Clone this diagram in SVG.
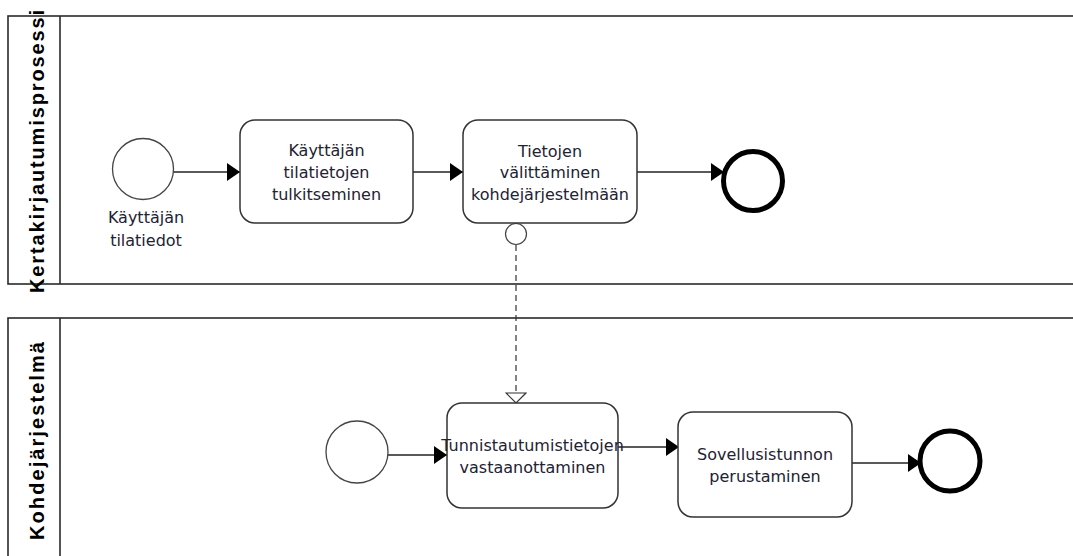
<svg xmlns="http://www.w3.org/2000/svg" width="1073" height="556" viewBox="0 0 1073 556">
  <style>
    .pool { fill: #ffffff; stroke: #2a2a2a; stroke-width: 1.6; }
    .divider { stroke: #2a2a2a; stroke-width: 1.6; }
    .pool-title { font-family: "Liberation Sans", Arial, sans-serif; font-weight: bold; font-size: 20px; fill: #000000; }
    .task { fill: #ffffff; stroke: #333333; stroke-width: 1.5; }
    .start { fill: #ffffff; stroke: #444444; stroke-width: 1.3; }
    .end { fill: #ffffff; stroke: #000000; stroke-width: 5; }
    .label { font-family: "DejaVu Sans", Verdana, sans-serif; font-size: 16px; fill: #222233; text-anchor: middle; }
    .flow { fill: none; stroke: #222222; stroke-width: 1.5; marker-end: url(#arrow); }
    .message { fill: none; stroke: #333333; stroke-width: 1.2; stroke-dasharray: 6 4; marker-end: url(#openArrow); }
  </style>
  <defs>
    <marker id="arrow" markerUnits="userSpaceOnUse" markerWidth="13" markerHeight="18" refX="13" refY="9" orient="auto">
      <path d="M0,0 L13,9 L0,18 z" fill="#000000"/>
    </marker>
    <marker id="openArrow" markerUnits="userSpaceOnUse" markerWidth="12" markerHeight="22" refX="11" refY="11" orient="auto">
      <path d="M1,1 L11,11 L1,21 z" fill="#ffffff" stroke="#333333" stroke-width="1.2"/>
    </marker>
  </defs>

  <!-- Pools -->
  <g id="pool-kertakirjautuminen">
    <rect class="pool" x="8" y="16" width="1100" height="268"/>
    <line class="divider" x1="60" y1="16" x2="60" y2="284"/>
    <text class="pool-title" transform="translate(44,151.5) rotate(-90)" text-anchor="middle" textLength="283" lengthAdjust="spacing">Kertakirjautumisprosessi</text>
  </g>
  <g id="pool-kohdejarjestelma">
    <rect class="pool" x="8" y="318" width="1100" height="300"/>
    <line class="divider" x1="60" y1="318" x2="60" y2="556"/>
    <text class="pool-title" transform="translate(44,441) rotate(-90)" text-anchor="middle" textLength="198" lengthAdjust="spacing">Kohdejärjestelmä</text>
  </g>

  <!-- Connectors -->
  <g id="connectors">
    <line class="flow" x1="173" y1="172" x2="240" y2="172"/>
    <line class="flow" x1="413" y1="172" x2="463" y2="172"/>
    <line class="flow" x1="637" y1="172" x2="724" y2="172"/>
    <line class="flow" x1="388" y1="455" x2="447" y2="455"/>
    <line class="flow" x1="618" y1="447" x2="679" y2="447"/>
    <line class="flow" x1="852" y1="463" x2="921" y2="463"/>
    <line class="message" x1="516" y1="245" x2="516" y2="403"/>
    <circle cx="516" cy="234" r="10.5" fill="#ffffff" stroke="#444444" stroke-width="1.2"/>
  </g>

  <!-- Upper pool nodes -->
  <g id="start-kayttajan-tilatiedot">
    <circle class="start" cx="143" cy="169" r="30.5"/>
    <text class="label" x="146" y="223">Käyttäjän</text>
    <text class="label" x="146" y="246">tilatiedot</text>
  </g>
  <g id="task-tulkitseminen">
    <rect class="task" x="240" y="120" width="173" height="103" rx="15" ry="15"/>
    <text class="label" x="326.5" y="156">Käyttäjän</text>
    <text class="label" x="326.5" y="178">tilatietojen</text>
    <text class="label" x="326.5" y="200">tulkitseminen</text>
  </g>
  <g id="task-valittaminen">
    <rect class="task" x="463" y="120" width="174" height="103" rx="15" ry="15"/>
    <text class="label" x="550" y="157">Tietojen</text>
    <text class="label" x="550" y="178">välittäminen</text>
    <text class="label" x="550" y="200">kohdejärjestelmään</text>
  </g>
  <g id="end-upper">
    <circle class="end" cx="753" cy="181" r="29.5"/>
  </g>

  <!-- Lower pool nodes -->
  <g id="start-lower">
    <circle class="start" cx="357" cy="452" r="31"/>
  </g>
  <g id="task-vastaanottaminen">
    <rect class="task" x="447" y="403" width="171" height="105" rx="15" ry="15"/>
    <text class="label" x="532.5" y="451">Tunnistautumistietojen</text>
    <text class="label" x="532.5" y="473">vastaanottaminen</text>
  </g>
  <g id="task-perustaminen">
    <rect class="task" x="678" y="412" width="174" height="105" rx="15" ry="15"/>
    <text class="label" x="765" y="460">Sovellusistunnon</text>
    <text class="label" x="765" y="482">perustaminen</text>
  </g>
  <g id="end-lower">
    <circle class="end" cx="950" cy="461" r="30"/>
  </g>
</svg>
